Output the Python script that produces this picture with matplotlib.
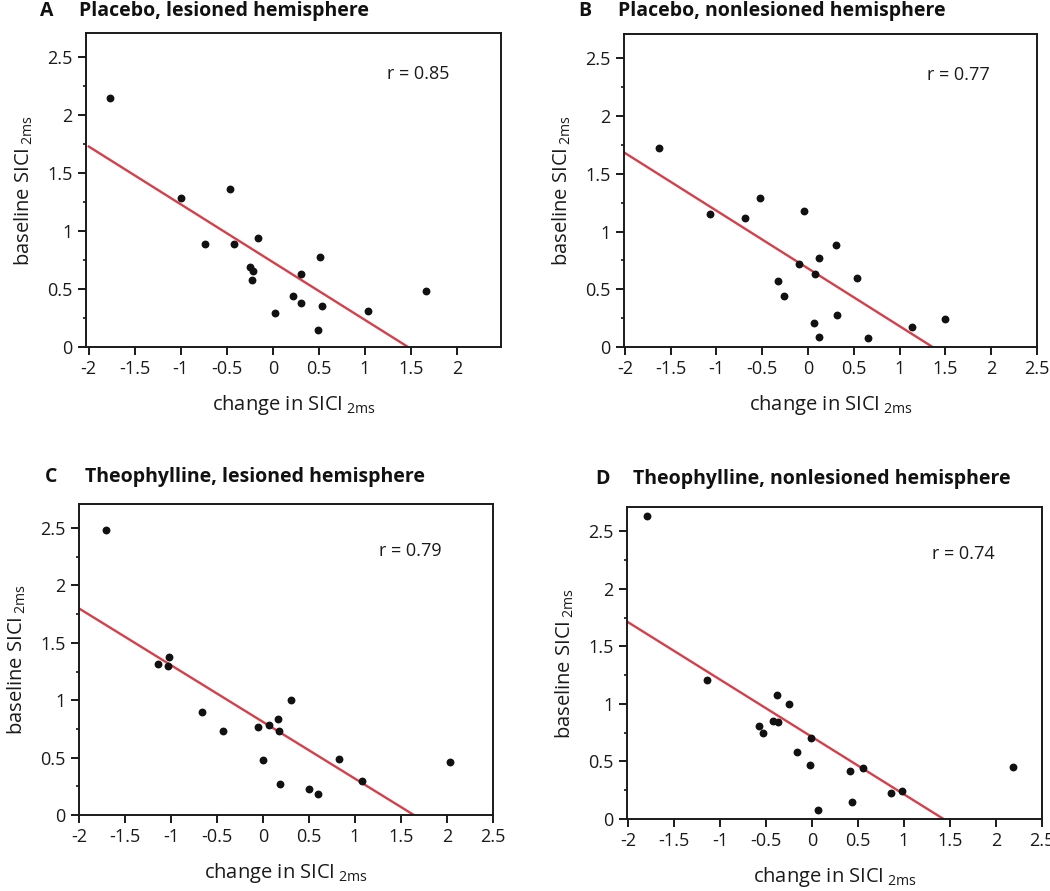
import matplotlib
matplotlib.use('Agg')
import matplotlib.pyplot as plt
import numpy as np

plt.rcParams['font.family'] = ['Open Sans', 'DejaVu Sans']
plt.rcParams['mathtext.fontset'] = 'custom'
plt.rcParams['mathtext.rm'] = 'Open Sans'

# panel A: placebo, lesioned
a_x = [-1.77, -1.00, -0.47, -0.74, -0.42, -0.16, -0.25, -0.22, -0.23, 0.51,
       0.31, 0.22, 0.31, 0.54, 0.02, 0.49, 1.04, 1.67]
a_y = [2.15, 1.29, 1.36, 0.89, 0.89, 0.94, 0.69, 0.66, 0.58, 0.78,
       0.63, 0.44, 0.38, 0.35, 0.29, 0.15, 0.31, 0.48]
a_fit_x = [-2.0, 1.47]
a_fit_y = [1.73, 0.0]

# panel B: placebo, nonlesioned
b_x = [-1.63, -1.07, -0.69, -0.53, -0.04, 0.30, 0.12, -0.10, 0.08, -0.33,
       0.53, -0.26, 0.32, 0.07, 0.12, 0.65, 1.13, 1.49]
b_y = [1.72, 1.15, 1.12, 1.29, 1.18, 0.88, 0.77, 0.72, 0.63, 0.57,
       0.60, 0.44, 0.28, 0.21, 0.09, 0.08, 0.17, 0.24]
b_fit_x = [-2.0, 1.36]
b_fit_y = [1.68, 0.0]

# panel C: theophylline, lesioned
c_x = [-1.71, -1.14, -1.03, -1.02, -0.66, -0.44, -0.05, 0.07, 0.16, 0.17,
       0.30, 0.00, 0.83, 1.08, 0.18, 0.50, 0.60, 2.03]
c_y = [2.48, 1.32, 1.30, 1.38, 0.90, 0.73, 0.77, 0.78, 0.84, 0.73,
       1.00, 0.48, 0.49, 0.30, 0.27, 0.23, 0.18, 0.46]
c_fit_x = [-2.0, 1.64]
c_fit_y = [1.80, 0.0]

# panel D: theophylline, nonlesioned
d_x = [-1.79, -1.14, -0.38, -0.25, -0.58, -0.53, -0.42, -0.37, -0.01, -0.16,
       -0.02, 0.41, 0.56, 0.86, 0.98, 0.43, 0.07, 2.18]
d_y = [2.63, 1.21, 1.08, 1.00, 0.81, 0.75, 0.85, 0.84, 0.70, 0.58,
       0.47, 0.42, 0.44, 0.23, 0.24, 0.15, 0.08, 0.45]
d_fit_x = [-2.0, 1.43]
d_fit_y = [1.71, 0.0]

letters = ['A', 'B', 'C', 'D']
titles = ['Placebo, lesioned hemisphere', 'Placebo, nonlesioned hemisphere',
          'Theophylline, lesioned hemisphere', 'Theophylline, nonlesioned hemisphere']
r_labels = ['r = 0.85', 'r = 0.77', 'r = 0.79', 'r = 0.74']
xtick_vals = [[-2, -1.5, -1, -0.5, 0, 0.5, 1, 1.5, 2],
              [-2, -1.5, -1, -0.5, 0, 0.5, 1, 1.5, 2, 2.5],
              [-2, -1.5, -1, -0.5, 0, 0.5, 1, 1.5, 2, 2.5],
              [-2, -1.5, -1, -0.5, 0, 0.5, 1, 1.5, 2, 2.5]]
ytick_vals = [0, 0.5, 1, 1.5, 2, 2.5]

W, H = 1050, 891
# axes boxes in pixels: left, right, top, bottom
boxes = [(86, 501, 33, 347), (624, 1037, 34, 347),
         (79, 493, 504, 815), (627, 1042, 507, 819)]
xlims = [(-2.03, 2.48), (-2.01, 2.5), (-2.0, 2.5), (-2.01, 2.5)]
r_pos = [(0.80, 0.87), (0.81, 0.87), (0.80, 0.85), (0.81, 0.85)]
letter_pos = [(40, 11, 79), (578, 11, 618), (45, 477, 85), (595, 479, 633)]

data = [(a_x, a_y, a_fit_x, a_fit_y), (b_x, b_y, b_fit_x, b_fit_y),
        (c_x, c_y, c_fit_x, c_fit_y), (d_x, d_y, d_fit_x, d_fit_y)]

fig = plt.figure(figsize=(W / 100, H / 100), dpi=100)

for i in range(4):
    l, r, t, b = boxes[i]
    ax = fig.add_axes([l / W, 1 - b / H, (r - l) / W, (b - t) / H])
    xs, ys, fx, fy = data[i]
    ax.plot(fx, fy, color='#d63f4a', lw=1.7, zorder=2)
    ax.scatter(xs, ys, s=32, color='#111111', zorder=3, linewidths=0)
    ax.set_xlim(*xlims[i])
    ax.set_ylim(0, 2.71)
    ax.set_xticks(xtick_vals[i])
    ax.set_xticklabels([('%g' % v) for v in xtick_vals[i]])
    ax.set_yticks(ytick_vals)
    ax.set_yticklabels([('%g' % v) for v in ytick_vals])
    ax.set_yticks(np.arange(0.25, 2.7, 0.5), minor=True)
    ax.tick_params(axis='both', which='major', direction='out', length=5.5, width=1.4,
                   labelsize=13, colors='#1a1a1a', pad=4)
    ax.tick_params(axis='y', which='minor', direction='out', length=2.5, width=1.1)
    for s in ax.spines.values():
        s.set_linewidth(1.4)
        s.set_color('#1a1a1a')
    ax.set_xlabel(r'change in SICI$\,_{\mathrm{2ms}}$', fontsize=14.5, color='#1a1a1a', labelpad=11)
    ax.set_ylabel(r'baseline SICI$\,_{\mathrm{2ms}}$', fontsize=14.5, color='#1a1a1a', labelpad=9)
    ax.text(r_pos[i][0], r_pos[i][1], r_labels[i], transform=ax.transAxes,
            ha='center', va='center', fontsize=13, color='#1a1a1a')
    lx, ly, tx = letter_pos[i]
    fig.text(lx / W, 1 - ly / H, letters[i], fontsize=14, fontweight='bold',
             ha='left', va='center', color='#111111')
    fig.text(tx / W, 1 - ly / H, titles[i], fontsize=14, fontweight='bold',
             ha='left', va='center', color='#111111')

fig.savefig('out.png', dpi=100)
